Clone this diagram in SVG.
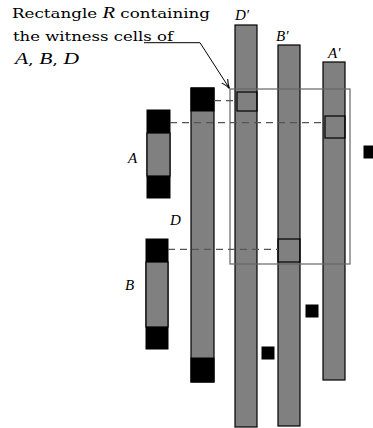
<svg xmlns="http://www.w3.org/2000/svg" width="373" height="428" viewBox="0 0 373 428">
<style>
.g{fill:#808080;stroke:#000;stroke-width:1.2}
.k{fill:#000;stroke:#000;stroke-width:1}
.sq{fill:none;stroke:#000;stroke-width:1.2}
.dash{stroke:#555;stroke-width:1.2;stroke-dasharray:7,5;fill:none}
.t{font-family:"DejaVu Serif","Liberation Serif",serif;font-size:13px;fill:#000}
.i{font-family:"Liberation Serif","DejaVu Serif",serif;font-style:italic;font-size:15px;fill:#000}
</style>
<defs>
<marker id="ah" viewBox="0 0 10 10" refX="10" refY="5" markerWidth="9" markerHeight="9" markerUnits="userSpaceOnUse" orient="auto">
<path d="M0,1 Q5,4 10,5 Q5,6 0,9" fill="none" stroke="#000" stroke-width="1.2"/>
</marker>
</defs>
<rect width="373" height="428" fill="#fff"/>
<g id="caption">
<text class="t" x="12" y="18" textLength="198" lengthAdjust="spacingAndGlyphs">Rectangle <tspan font-style="italic" font-family="Liberation Serif" font-size="16">R</tspan> containing</text>
<text class="t" x="13" y="41" textLength="160" lengthAdjust="spacingAndGlyphs">the witness cells of</text>
<text class="t" x="15" y="64" textLength="64" lengthAdjust="spacingAndGlyphs"><tspan font-style="italic" font-family="Liberation Serif" font-size="16">A</tspan>, <tspan font-style="italic" font-family="Liberation Serif" font-size="16">B</tspan>, <tspan font-style="italic" font-family="Liberation Serif" font-size="16">D</tspan></text>
</g>
<g id="nodeA">
<rect class="k" x="147" y="110" width="23" height="88"/>
<rect class="g" x="147" y="133" width="23" height="43"/>
<text class="i" x="128" y="163">A</text>
</g>
<g id="nodeB">
<rect class="k" x="146" y="239" width="22" height="110"/>
<rect class="g" x="146" y="262" width="22" height="65"/>
<text class="i" x="125" y="290">B</text>
</g>
<g id="nodeD">
<rect class="g" x="191" y="88" width="23" height="294"/>
<rect class="k" x="191" y="88" width="23" height="23"/>
<rect class="k" x="191" y="358" width="23" height="24"/>
<text class="i" x="170" y="225">D</text>
</g>
<g id="nodeDp">
<rect class="g" x="235" y="25" width="22" height="402"/>
<rect class="sq" x="237" y="92" width="20" height="19"/>
<text class="i" x="235" y="20">D′</text>
</g>
<g id="nodeBp">
<rect class="g" x="278" y="45" width="22" height="381"/>
<rect class="sq" x="278" y="239" width="22" height="23"/>
<text class="i" x="276" y="41">B′</text>
</g>
<g id="nodeAp">
<rect class="g" x="323" y="62" width="22" height="318"/>
<rect class="sq" x="325" y="116" width="20" height="22"/>
<text class="i" x="328" y="58">A′</text>
</g>
<g id="rectR">
<rect x="230" y="89" width="120" height="175" fill="none" stroke="#666" stroke-width="1.2"/>
</g>
<g id="cells">
<rect class="k" x="364" y="146" width="12" height="12"/>
<rect class="k" x="306" y="305" width="12" height="12"/>
<rect class="k" x="262" y="347" width="12" height="12"/>
</g>
<g id="connectors">
<line class="dash" x1="170" y1="122.7" x2="325" y2="122.7"/>
<line class="dash" x1="168" y1="249.3" x2="278" y2="249.3"/>
<line class="dash" x1="214" y1="100.7" x2="237" y2="100.7" stroke-dasharray="6,8"/>
<polyline points="144,42.7 200,42.7 229.5,88.5" fill="none" stroke="#000" stroke-width="1" marker-end="url(#ah)"/>
</g>
</svg>
